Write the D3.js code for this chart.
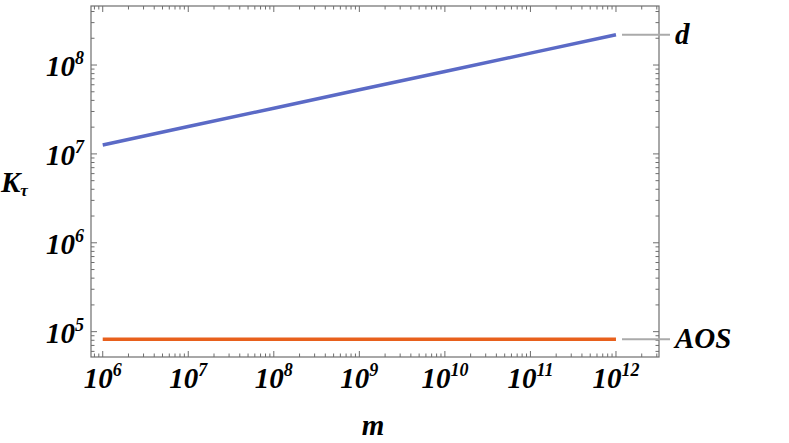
<!DOCTYPE html>
<html><head><meta charset="utf-8">
<script src="https://cdn.jsdelivr.net/npm/d3@7"></script>
<style>
body{margin:0;background:#fff}
text{font-family:"Liberation Serif","Times New Roman",serif;font-weight:bold;font-style:italic;fill:#000}
</style>
</head><body><svg id="c" width="789" height="443"></svg>
<script>
const mValues   = [1e6, 1e7, 1e8, 1e9, 1e10, 1e11, 1e12];
const dValues   = [1.26e7, 2.03e7, 3.27e7, 5.26e7, 8.47e7, 1.36e8, 2.19e8];
const aosValues = [8.2e4, 8.2e4, 8.2e4, 8.2e4, 8.2e4, 8.2e4, 8.2e4];
const seriesNames = ["d", "AOS"];
const seriesColors = ["#5b6ac6", "#e8601c"];
const xTickExps = [6, 7, 8, 9, 10, 11, 12];
const yTickExps = [5, 6, 7, 8];

const svg = d3.select("#c");
const L = 91, R = 659, T = 6, B = 357;
const x = d3.scaleLog().domain([Math.pow(10, 5.863), Math.pow(10, 12.503)]).range([L, R]);
const y = d3.scaleLog().domain([Math.pow(10, 4.715), Math.pow(10, 8.664)]).range([B, T]);

function allTicks(scale) {
  const [a, b] = scale.domain();
  const out = [];
  for (let e = Math.floor(Math.log10(a)); e <= Math.ceil(Math.log10(b)); e++) {
    for (let k = 1; k <= 9; k++) {
      const v = k * Math.pow(10, e);
      if (v >= a && v <= b) out.push({v, major: k === 1});
    }
  }
  return out;
}
const frameColor = "#6e6e6e";
const g = svg.append("g");
g.append("rect").attr("x", L).attr("y", T).attr("width", R - L).attr("height", B - T)
  .attr("fill", "none").attr("stroke", frameColor).attr("stroke-width", 1.2);
const MJ = 6, MN = 3.5;
allTicks(x).forEach(t => {
  const px = x(t.v), len = t.major ? MJ : MN;
  g.append("line").attr("x1", px).attr("x2", px).attr("y1", B).attr("y2", B - len).attr("stroke", frameColor);
  g.append("line").attr("x1", px).attr("x2", px).attr("y1", T).attr("y2", T + len).attr("stroke", frameColor);
});
allTicks(y).forEach(t => {
  const py = y(t.v), len = t.major ? MJ : MN;
  g.append("line").attr("y1", py).attr("y2", py).attr("x1", L).attr("x2", L + len).attr("stroke", frameColor);
  g.append("line").attr("y1", py).attr("y2", py).attr("x1", R).attr("x2", R - len).attr("stroke", frameColor);
});

xTickExps.forEach(e => {
  const t = svg.append("text").attr("x", x(Math.pow(10, e))).attr("y", 388)
    .attr("text-anchor", "middle").attr("font-size", 29);
  t.append("tspan").text("10");
  t.append("tspan").attr("dy", -12).attr("font-size", 18).text(e);
});
yTickExps.forEach(e => {
  const t = svg.append("text").attr("x", 84).attr("y", y(Math.pow(10, e)) + 11)
    .attr("text-anchor", "end").attr("font-size", 29);
  t.append("tspan").text("10");
  t.append("tspan").attr("dy", -12).attr("font-size", 18).text(e);
});

svg.append("text").attr("x", 373).attr("y", 435).attr("text-anchor", "middle").attr("font-size", 29).text("m");
const yl = svg.append("text").attr("x", 1).attr("y", 192).attr("font-size", 29);
yl.append("tspan").text("K");
yl.append("tspan").attr("dy", 4).attr("font-size", 17).text("τ");

const series = [dValues, aosValues];
const line = d3.line().x((d, i) => x(mValues[i])).y(d => y(d));
series.forEach((vals, si) => {
  svg.append("path").datum(vals).attr("d", line).attr("fill", "none")
    .attr("stroke", seriesColors[si]).attr("stroke-width", 3.5);
  const last = vals[vals.length - 1];
  const py = y(last);
  svg.append("line").attr("x1", 622).attr("x2", 670).attr("y1", py).attr("y2", py)
    .attr("stroke", "#aaaaaa").attr("stroke-width", 2);
  svg.append("text").attr("x", 675).attr("y", py + 9).attr("font-size", 29).text(seriesNames[si]);
});
</script></body></html>
